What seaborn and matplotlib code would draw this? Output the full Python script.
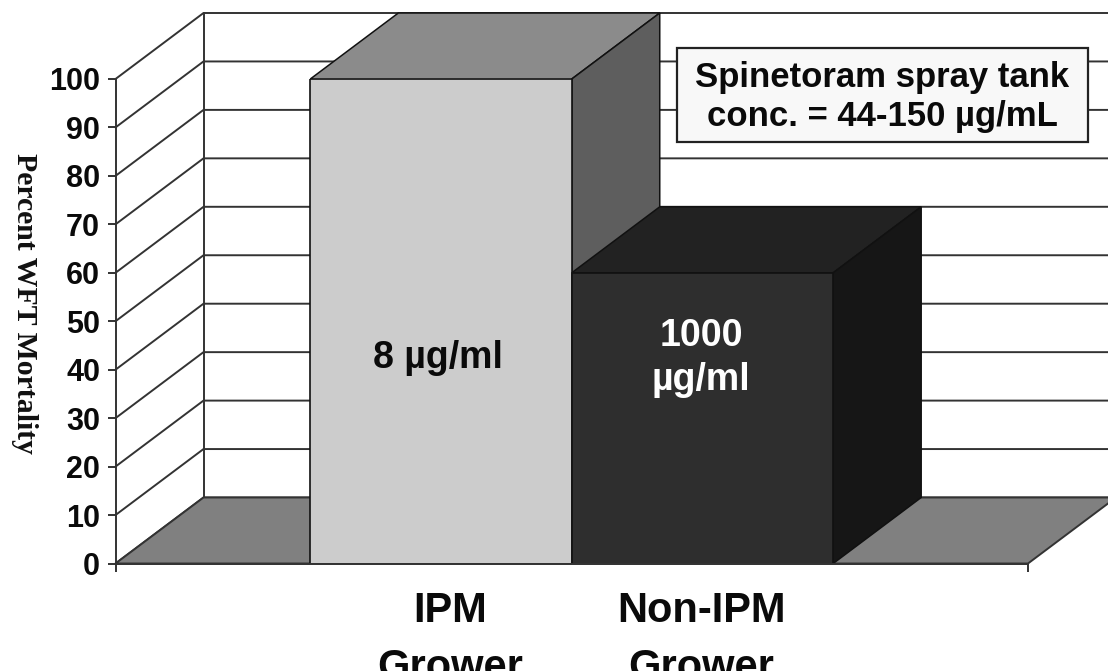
import matplotlib
matplotlib.use("Agg")
import matplotlib.pyplot as plt
from matplotlib.patches import Polygon
import pandas as pd
import seaborn as sns

# Values
grower_types = ["IPM Grower", "Non-IPM Grower"]
mortality = [100, 60]
front_colors = ["#cccccc", "#2e2e2e"]
top_colors = ["#8b8b8b", "#222222"]
side_colors = ["#5e5e5e", "#161616"]
bar_labels = ["8 µg/ml", "1000\nµg/ml"]
axis_labels = ["IPM\nGrower", "Non-IPM\nGrower"]
y_ticks = list(range(0, 101, 10))
note_text = "Spinetoram spray tank\nconc. = 44-150 µg/mL"

W, H = 1108, 671
LINE = "#333333"

sns.set_style("white")
plt.rcParams["font.family"] = ["Liberation Sans", "DejaVu Sans"]
plt.rcParams["font.weight"] = "bold"

df = pd.DataFrame({"group": ["all"] * 2, "grower": grower_types, "mortality": mortality})

fig = plt.figure(figsize=(W / 100, H / 100), dpi=100, facecolor="white")
ax = fig.add_axes([115.5 / W, 1 - 563.5 / H, 912.5 / W, 484.5 / H])
ax.patch.set_alpha(0)

sns.barplot(data=df, x="group", y="mortality", hue="grower", hue_order=grower_types,
            palette=front_colors, saturation=1, width=0.573, gap=0, dodge=True,
            legend=False, edgecolor="#111111", linewidth=1.2, ax=ax)

ax.set_xlim(-0.5, 0.5)
ax.set_ylim(0, 100)

# depth of the fake 3D box, in data units
dx = 88 / 912.5
dy = 66 / 4.845

# back wall, left wall and floor
x0, x1 = ax.get_xlim()
for v in y_ticks:
    ax.plot([x0, x0 + dx, x1 + dx], [v, v + dy, v + dy], color=LINE, lw=1.4, zorder=0.5, clip_on=False)
ax.plot([x0 + dx, x0 + dx], [dy, 100 + dy], color=LINE, lw=1.4, zorder=0.5, clip_on=False)
floor = Polygon([(x0, 0), (x1, 0), (x1 + dx, dy), (x0 + dx, dy)], closed=True, facecolor="#808080",
                edgecolor=LINE, lw=1.4, zorder=0.6, clip_on=False)
ax.add_patch(floor)

# extruded faces of each bar, built from the bars seaborn drew
bars = [p for p in ax.patches if p is not floor]
for i, bar in enumerate(bars):
    left = bar.get_x()
    right = left + bar.get_width()
    h = bar.get_height()
    top = Polygon([(left, h), (right, h), (right + dx, h + dy), (left + dx, h + dy)], closed=True,
                  facecolor=top_colors[i], edgecolor="#111111", lw=1.1, zorder=1 + i, clip_on=False)
    side = Polygon([(right, 0), (right + dx, dy), (right + dx, h + dy), (right, h)], closed=True,
                   facecolor=side_colors[i], edgecolor="#111111", lw=1.1, zorder=1 + i, clip_on=False)
    ax.add_patch(top)
    ax.add_patch(side)
    bar.set_zorder(4)

# labels on the bars
fig.text(438 / W, 1 - 358 / H, bar_labels[0], ha="center", va="center", fontsize=27, color="#0a0a0a", zorder=8)
fig.text(701 / W, 1 - 358 / H, bar_labels[1], ha="center", va="center", fontsize=27, linespacing=1.27,
         color="white", zorder=8)

# axis
for name in ["top", "right"]:
    ax.spines[name].set_visible(False)
for name in ["left", "bottom"]:
    ax.spines[name].set_color(LINE)
    ax.spines[name].set_linewidth(1.4)
    ax.spines[name].set_zorder(6)
ax.set_yticks(y_ticks)
ax.set_xticks([x0, x1], ["", ""])
ax.tick_params(axis="both", direction="out", length=6, width=1.4, color=LINE, left=True, bottom=True)
ax.tick_params(axis="y", labelsize=22, pad=5, labelcolor="#0a0a0a")
ax.set_xlabel("")
ax.set_ylabel("")

fig.text(24 / W, 1 - 303 / H, "Percent WFT Mortality", rotation=270, ha="center", va="center",
         family="Liberation Serif", fontsize=21.4, fontweight="bold", color="#111111")

# the second line runs off the bottom of the picture, as in the source
for label, cx in zip(axis_labels, [450, 701]):
    fig.text(cx / W, 1 - 591 / H, label, ha="center", va="top", fontsize=30, linespacing=1.55, color="#0a0a0a")

fig.text(882.5 / W, 1 - 97 / H, note_text, ha="center", va="center", fontsize=25, linespacing=1.2, color="#0a0a0a",
         zorder=10)
box = plt.Rectangle((677 / W, 1 - 142 / H), 411 / W, 94 / H, transform=fig.transFigure, facecolor="#f8f8f8",
                    edgecolor="#222222", lw=1.6, zorder=9)
fig.add_artist(box)

fig.savefig("out.png", dpi=100)
